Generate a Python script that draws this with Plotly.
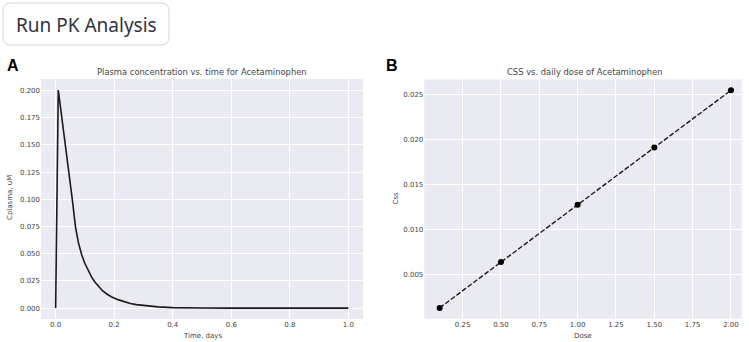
import plotly.graph_objects as go

# ---- data ----
time_days = [0.0, 0.009, 0.057, 0.068, 0.078, 0.089, 0.100, 0.112, 0.123, 0.134, 0.147,
             0.160, 0.175, 0.190, 0.213, 0.235, 0.255, 0.276, 0.300, 0.325, 0.350, 0.400,
             0.450, 0.500, 0.600, 0.700, 0.800, 0.900, 1.000]
cplasma_uM = [0.0, 0.2005, 0.0997, 0.0743, 0.0600, 0.0490, 0.0410, 0.0340, 0.0285, 0.0240,
              0.0198, 0.0160, 0.0130, 0.0105, 0.0078, 0.0058, 0.0043, 0.0032, 0.0023, 0.0016,
              0.0011, 0.0005, 0.0002, 0.0001, 0.00003, 0.00001, 0.0, 0.0, 0.0]

dose = [0.1, 0.5, 1.0, 1.5, 2.0]
css = [0.00127, 0.00636, 0.01272, 0.01908, 0.02544]

left_yticks = [0.0, 0.025, 0.05, 0.075, 0.1, 0.125, 0.15, 0.175, 0.2]
left_xticks = [0.0, 0.2, 0.4, 0.6, 0.8, 1.0]
right_yticks = [0.005, 0.010, 0.015, 0.020, 0.025]
right_xticks = [0.25, 0.5, 0.75, 1.0, 1.25, 1.5, 1.75, 2.0]

W, H = 749, 342
def px(x): return x / W
def py(y): return 1 - y / H

TXT = "#444444"
FONT = "DejaVu Sans"
BG = "#EAEAF2"

fig = go.Figure()
fig.add_trace(go.Scatter(x=time_days, y=cplasma_uM, mode="lines",
                         line=dict(color="#1a1a1a", width=1.6),
                         xaxis="x", yaxis="y", showlegend=False))
fig.add_trace(go.Scatter(x=dose, y=css, mode="lines+markers",
                         line=dict(color="#1a1a1a", width=1.4, dash="5px,2px"),
                         marker=dict(color="#000000", size=6),
                         xaxis="x2", yaxis="y2", showlegend=False))

axis_common = dict(showgrid=True, gridcolor="white", gridwidth=1, zeroline=False,
                   showline=False, ticks="", tickfont=dict(family=FONT, size=7, color=TXT))

fig.update_layout(
    width=W, height=H, margin=dict(l=0, r=0, t=0, b=0),
    paper_bgcolor="white", plot_bgcolor=BG,
    xaxis=dict(domain=[px(41), px(363)], range=[-0.05, 1.05], tickvals=left_xticks,
               tickformat=".1f", anchor="y", **axis_common),
    yaxis=dict(domain=[py(319), py(79)], range=[-0.01, 0.2106], tickvals=left_yticks,
               tickformat=".3f", anchor="x", **axis_common),
    xaxis2=dict(domain=[px(424.3), px(741.7)], range=[0.0, 2.07], tickvals=right_xticks,
                tickformat=".2f", anchor="y2", **axis_common),
    yaxis2=dict(domain=[py(318.8), py(79.4)], range=[0.00006, 0.02665], tickvals=right_yticks,
                tickformat=".3f", anchor="x2", **axis_common),
)

# rounded button
x0, x1, y0, y1, r = 3, 169, 3, 45, 8
path = (f"M {px(x0+r)},{py(y0)} L {px(x1-r)},{py(y0)} Q {px(x1)},{py(y0)} {px(x1)},{py(y0+r)} "
        f"L {px(x1)},{py(y1-r)} Q {px(x1)},{py(y1)} {px(x1-r)},{py(y1)} "
        f"L {px(x0+r)},{py(y1)} Q {px(x0)},{py(y1)} {px(x0)},{py(y1-r)} "
        f"L {px(x0)},{py(y0+r)} Q {px(x0)},{py(y0)} {px(x0+r)},{py(y0)} Z")
fig.add_shape(type="path", path=path, xref="paper", yref="paper",
              line=dict(color="#d5d6db", width=1), fillcolor="white", layer="below")

def ann(text, x, y, size, color=TXT, family=FONT, angle=0, bold=False):
    fig.add_annotation(text=f"<b>{text}</b>" if bold else text, x=px(x), y=py(y),
                       xref="paper", yref="paper", showarrow=False, textangle=angle,
                       xanchor="center", yanchor="middle",
                       font=dict(family=family, size=size, color=color))

ann("Run PK Analysis", 86.5, 24.5, 19, color="#31333F", family="Noto Sans")
ann("A", 12.5, 66, 16, color="#000000", family="Liberation Sans", bold=True)
ann("B", 392, 66, 16, color="#000000", family="Liberation Sans", bold=True)
ann("Plasma concentration vs. time for Acetaminophen", 202, 72, 8.4)
ann("CSS vs. daily dose of Acetaminophen", 585, 72, 8.4)
ann("Time, days", 202, 335.5, 7)
ann("Dose", 583, 335.5, 7)
ann("Cplasma, uM", 10, 198, 7, angle=-90)
ann("Css", 395.5, 198, 7, angle=-90)

fig.write_html("out.html", config={"displayModeBar": False},
               post_script="document.body.style.margin='0';document.body.style.overflow='hidden';")
